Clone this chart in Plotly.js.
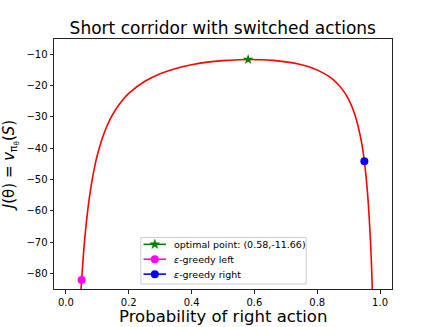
<!DOCTYPE html>
<html>
<head>
<meta charset="utf-8">
<script src="https://cdn.plot.ly/plotly-3.0.1.min.js"></script>
<style>
  body { margin: 0; background: #fff; }
  #chart { width: 436px; height: 327px; }
</style>
</head>
<body>
<div id="chart"></div>
<script>
// probability of right action vs J(theta)
const probRight = [0.045, 0.05, 0.06, 0.07, 0.08, 0.09, 0.10, 0.12, 0.14, 0.16, 0.18, 0.20,
  0.25, 0.30, 0.35, 0.40, 0.45, 0.50, 0.55, 0.58, 0.62, 0.66, 0.70, 0.74, 0.78, 0.82,
  0.85, 0.88, 0.90, 0.92, 0.94, 0.95, 0.96, 0.97, 0.975, 0.98];
const jValues = [-91.0, -82.1, -68.8, -59.3, -52.2, -46.6, -42.2, -35.6, -30.9, -27.4, -24.7, -22.5,
  -18.7, -16.2, -14.5, -13.3, -12.5, -12.0, -11.72, -11.66, -11.71, -11.94, -12.4, -13.1, -14.2, -16.0,
  -18.0, -21.2, -24.4, -29.3, -37.6, -44.2, -54.2, -70.8, -84.1, -104.1];

const optimalX = [0.58], optimalY = [-11.66];
const leftX = [0.05], leftY = [-82.1];
const rightX = [0.95], rightY = [-44.2];

const legendLabels = ['optimal point: (0.58,-11.66)', '<i>ε</i>-greedy left', '<i>ε</i>-greedy right'];
const legendColors = ['green', 'magenta', 'blue'];
const legendSymbols = ['star', 'circle', 'circle'];

const font = 'DejaVu Sans, sans-serif';

const data = [
  {
    x: probRight, y: jValues,
    mode: 'lines', type: 'scatter',
    line: { color: '#ff0000', width: 1.6, shape: 'spline' },
    hoverinfo: 'skip'
  },
  {
    x: optimalX, y: optimalY, mode: 'markers', type: 'scatter',
    marker: { symbol: 'star', size: 8, color: 'green' }
  },
  {
    x: leftX, y: leftY, mode: 'markers', type: 'scatter',
    marker: { symbol: 'circle', size: 8, color: 'magenta' }
  },
  {
    x: rightX, y: rightY, mode: 'markers', type: 'scatter',
    marker: { symbol: 'circle', size: 8, color: 'blue' }
  }
];

// matplotlib-like compact legend, built from shapes + annotations (paper coords)
const box = { x0: 0.257, x1: 0.746, y0: 0.02, y1: 0.206 };
const rowY = [0.1786, 0.119, 0.0595];
const lineX0 = 0.2648, lineX1 = 0.3314, markX = 0.2982, textX = 0.3482;

const starPath = 'M0,5 L1.18,1.62 L4.76,1.55 L1.9,-0.62 L2.94,-4.05 L0,-2 L-2.94,-4.05 L-1.9,-0.62 L-4.76,1.55 L-1.18,1.62 Z';

const shapes = [{
  type: 'rect', xref: 'paper', yref: 'paper',
  x0: box.x0, x1: box.x1, y0: box.y0, y1: box.y1,
  fillcolor: 'rgba(255,255,255,0.8)', line: { color: '#cccccc', width: 1 }
}];
const annotations = [];
legendLabels.forEach((label, i) => {
  shapes.push({
    type: 'line', xref: 'paper', yref: 'paper',
    x0: lineX0, x1: lineX1, y0: rowY[i], y1: rowY[i],
    line: { color: legendColors[i], width: 1.6 }
  });
  if (legendSymbols[i] === 'star') {
    shapes.push({
      type: 'path', xref: 'paper', yref: 'paper',
      xsizemode: 'pixel', ysizemode: 'pixel', xanchor: markX, yanchor: rowY[i],
      path: starPath, fillcolor: legendColors[i], line: { color: legendColors[i], width: 0.5 }
    });
  } else {
    shapes.push({
      type: 'circle', xref: 'paper', yref: 'paper',
      xsizemode: 'pixel', ysizemode: 'pixel', xanchor: markX, yanchor: rowY[i],
      x0: -4, x1: 4, y0: -4, y1: 4,
      fillcolor: legendColors[i], line: { color: legendColors[i], width: 0 }
    });
  }
  annotations.push({
    xref: 'paper', yref: 'paper', x: textX, y: rowY[i],
    xanchor: 'left', yanchor: 'middle', showarrow: false,
    text: label, font: { size: 9.5 }
  });
});

// x axis title placed as an annotation, anchored to the bottom edge of the figure
annotations.push({
  xref: 'paper', yref: 'paper', x: 0.5, y: -0.152,
  xanchor: 'center', yanchor: 'bottom', showarrow: false, borderpad: 0,
  text: 'Probability of right action', font: { size: 16.5 }
});

const layout = {
  width: 436, height: 327,
  margin: { l: 54, r: 44, t: 39, b: 38 },
  paper_bgcolor: '#fff', plot_bgcolor: '#fff',
  font: { family: font, color: '#000', size: 10 },
  title: { text: 'Short corridor with switched actions', font: { size: 17 }, x: 0.511, xanchor: 'center', y: 0.895, yanchor: 'bottom' },
  xaxis: {
    range: [-0.038, 1.038], tickvals: [0, 0.2, 0.4, 0.6, 0.8, 1.0], tickformat: '.1f',
    showgrid: false, zeroline: false, showline: true, mirror: true, linecolor: '#222', linewidth: 1,
    ticks: 'outside', ticklen: 3.5, tickcolor: '#222', ticklabelstandoff: 0
  },
  yaxis: {
    title: { text: '<i>J</i>(θ) = <i>v</i><sub>π<sub>θ</sub></sub>(<i>S</i>)', font: { size: 15 }, standoff: 8 },
    range: [-85, -5.1], tickvals: [-80, -70, -60, -50, -40, -30, -20, -10],
    showgrid: false, zeroline: false, showline: true, mirror: true, linecolor: '#222', linewidth: 1,
    ticks: 'outside', ticklen: 3.5, tickcolor: '#222'
  },
  shapes: shapes,
  annotations: annotations,
  showlegend: false
};

Plotly.newPlot('chart', data, layout, { displayModeBar: false, staticPlot: true });
</script>
</body>
</html>
